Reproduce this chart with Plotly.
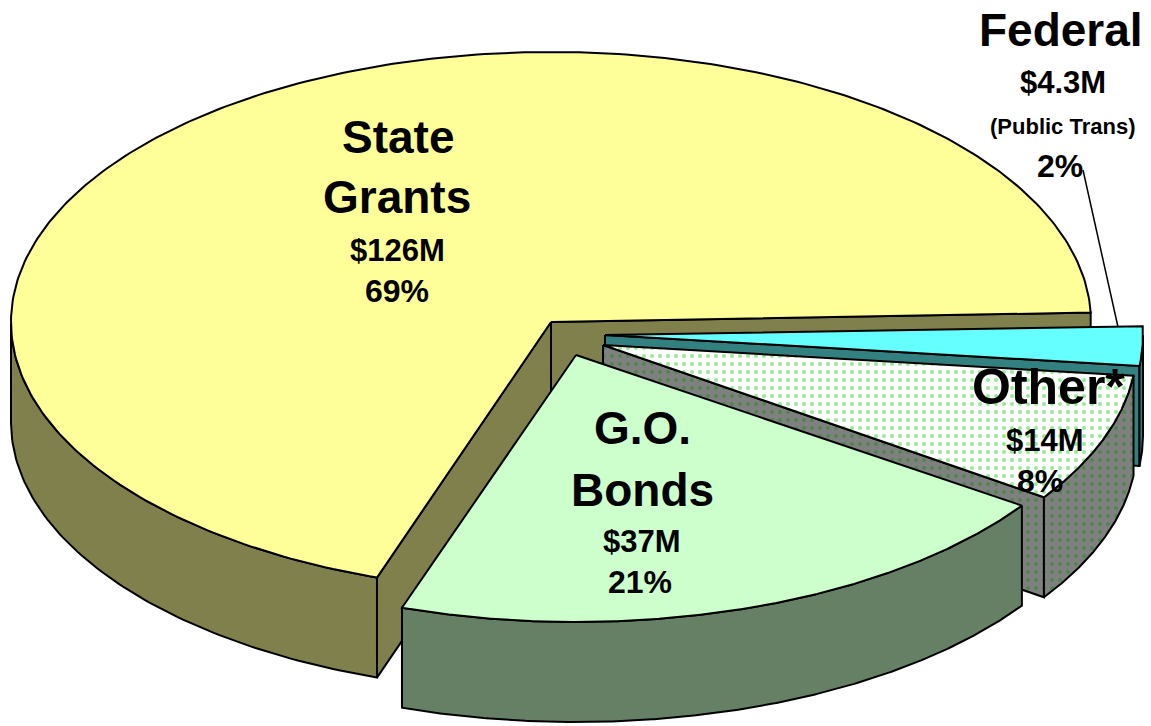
import numpy as np
import plotly.graph_objects as go

# ---- data ----
slice_names = ["Federal", "Other", "G.O. Bonds", "State Grants"]
slice_values = [4.3, 14, 37.5, 125.5]
label_lines = [
    ["Federal", "$4.3M", "(Public Trans)", "2%"],
    ["Other*", "$14M", "8%"],
    ["G.O.", "Bonds", "$37M", "21%"],
    ["State", "Grants", "$126M", "69%"],
]

# ---- styling / layout constants ----
W, H = 1151, 726
RADII_X = [538, 534, 540, 540]
RADII_Y = [272, 270, 267, 270]
DEPTH = 100
START_ANGLE = -2.0
CENTERS = [(605, 335), (603, 345), (576, 355), (551, 322)]
TOP_COLORS = ["#66FFFF", "#FFFFFF", "#CCFFCC", "#FFFF99"]
SIDE_COLORS = ["#338080", "#808080", "#668066", "#80804D"]
PATTERN_TOP = [None, "#22DD22", None, None]
PATTERN_SIDE = [None, "#1A8C1A", None, None]
DRAW_ORDER = [3, 0, 1, 2]
LABEL_POS = [
    [(1061, 30, 46), (1063, 82, 31), (1062, 126, 22), (1060, 166, 32)],
    [(1048, 387, 50), (1045, 440, 31), (1040, 481, 32)],
    [(642, 428, 46), (642, 490, 46), (642, 541, 31), (640, 582, 32)],
    [(398, 137, 46), (397, 197, 46), (397, 250, 31), (397, 291, 32)],
]

spans = 360 * np.array(slice_values, dtype=float) / sum(slice_values)
starts = START_ANGLE + np.concatenate([[0], np.cumsum(spans)[:-1]])


def edge(i, deg):
    t = np.radians(deg)
    return CENTERS[i][0] + RADII_X[i] * np.cos(t), CENTERS[i][1] + RADII_Y[i] * np.sin(t)


def poly(fig, xs, ys, color, pat=None, lw=2):
    kw = {}
    if pat:
        kw["fillpattern"] = dict(shape=".", size=8, solidity=0.2, fgcolor=pat, bgcolor=color)
    fig.add_trace(go.Scatter(x=xs, y=ys, mode="lines", fill="toself", fillcolor=color,
                             line=dict(color="black", width=lw), hoverinfo="skip",
                             showlegend=False, **kw))


fig = go.Figure()
for i in DRAW_ORDER:
    c = CENTERS[i]
    a0, a1 = starts[i], starts[i] + spans[i]
    # visible cut faces
    for ang, normal in ((a0, a0 - 90), (a1, a1 + 90)):
        if np.sin(np.radians(normal)) > 0:
            ex, ey = edge(i, ang)
            poly(fig, [c[0], ex, ex, c[0], c[0]], [c[1], ey, ey + DEPTH, c[1] + DEPTH, c[1]],
                 SIDE_COLORS[i], PATTERN_SIDE[i])
    # visible outer wall (front half of the rim only)
    th = np.linspace(a0, a1, 300)
    front = th[np.sin(np.radians(th)) >= 0]
    if len(front):
        xs, ys = edge(i, front)
        poly(fig, np.r_[xs, xs[::-1], xs[0]], np.r_[ys, ys[::-1] + DEPTH, ys[0]],
             SIDE_COLORS[i], PATTERN_SIDE[i])
    # top face
    xs, ys = edge(i, th)
    poly(fig, np.r_[c[0], xs, c[0]], np.r_[c[1], ys, c[1]], TOP_COLORS[i], PATTERN_TOP[i])

# leader line for the Federal label
fig.add_shape(type="line", x0=1083, y0=170, x1=1118, y1=327, line=dict(color="black", width=1.5))

for lines, pos in zip(label_lines, LABEL_POS):
    for text, (x, y, size) in zip(lines, pos):
        fig.add_annotation(x=x, y=y, text=f"<b>{text}</b>", showarrow=False,
                           xanchor="center", yanchor="middle",
                           font=dict(family="Liberation Sans", size=size, color="black"))

fig.update_xaxes(range=[0, W], visible=False, fixedrange=True)
fig.update_yaxes(range=[H, 0], visible=False, fixedrange=True)
fig.update_layout(width=W, height=H, margin=dict(l=0, r=0, t=0, b=0),
                  paper_bgcolor="white", plot_bgcolor="white", showlegend=False)
fig.write_html("out.html", config={"displayModeBar": False},
               post_script="document.body.style.margin='0';document.body.style.overflow='hidden';")
